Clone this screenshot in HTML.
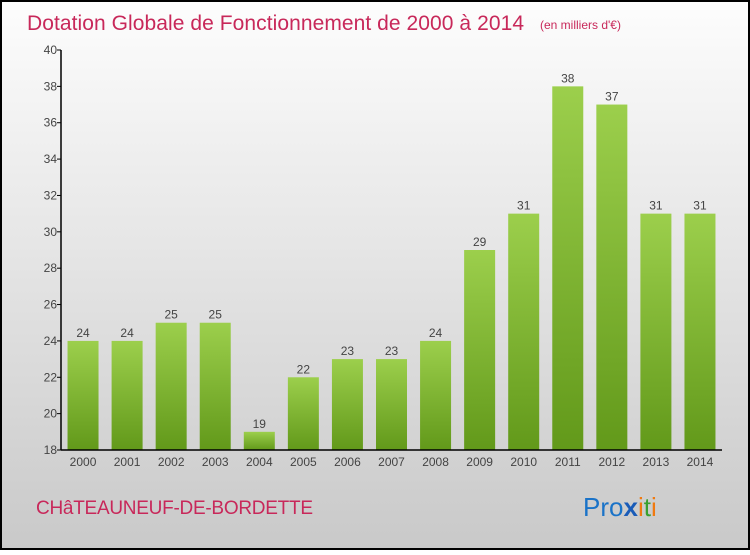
<!DOCTYPE html>
<html><head><meta charset="utf-8"><style>
body{margin:0;width:750px;height:550px;overflow:hidden;font-family:"Liberation Sans",sans-serif}
</style></head><body>
<svg id="chart" width="750" height="550" xmlns="http://www.w3.org/2000/svg">
<defs>
<linearGradient id="bg" x1="0" y1="0" x2="0" y2="1"><stop offset="0" stop-color="#fdfdfd"/><stop offset="1" stop-color="#c9c9c9"/></linearGradient>
<linearGradient id="bar" x1="0" y1="0" x2="0" y2="1"><stop offset="0" stop-color="#9ccf4c"/><stop offset="1" stop-color="#62991a"/></linearGradient>
</defs>
<rect x="1" y="1" width="748" height="548" fill="url(#bg)" stroke="#000" stroke-width="2"/>
<text x="27" y="30" font-size="21" fill="#c8285a" textLength="497">Dotation Globale de Fonctionnement de 2000 à 2014</text>
<text x="540" y="29" font-size="12" fill="#c8285a">(en milliers d'€)</text>
<g id="bars"></g><g id="axes"></g>
<text x="36" y="514" font-size="19" fill="#c8285a" textLength="277">CHâTEAUNEUF-DE-BORDETTE</text>
<text x="583" y="516" font-size="26"><tspan fill="#1a73c8">Pro</tspan><tspan fill="#1a5cb8" font-weight="bold">x</tspan><tspan fill="#f07a10">i</tspan><tspan fill="#3aa030">t</tspan><tspan fill="#f07a10">i</tspan></text>
</svg>
<script>
const years=["2000","2001","2002","2003","2004","2005","2006","2007","2008","2009","2010","2011","2012","2013","2014"];
const values=[24,24,25,25,19,22,23,23,24,29,31,38,37,31,31];
const yTicks=[18,20,22,24,26,28,30,32,34,36,38,40];
const NS="http://www.w3.org/2000/svg";
const x0=61,x1=722,yTop=50,yBot=450,vMin=18,vMax=40;
const step=(x1-x0)/years.length;
const y=v=>yBot-(v-vMin)/(vMax-vMin)*(yBot-yTop);
const xc=i=>x0+step*(i+0.5);
function mk(tag,attrs,parent){const e=document.createElementNS(NS,tag);for(const k in attrs)e.setAttribute(k,attrs[k]);parent.appendChild(e);return e;}
const bars=document.getElementById('bars'),axes=document.getElementById('axes');
yTicks.forEach(t=>{
 const tk=mk('line',{x1:x0-4,x2:x0,y1:y(t),y2:y(t),stroke:'#000'},axes);
 
 
 const l=mk('text',{x:x0-4,y:y(t)+4,'text-anchor':'end','font-size':12,fill:'#444'},axes);l.textContent=t;
 
 
});
values.forEach((v,i)=>{
 const r=mk('rect',{x:xc(i)-15.5,y:y(v),width:31,height:yBot-y(v),fill:'url(#bar)'},bars);
 
 
 const t=mk('text',{x:xc(i),y:y(v)-4,'text-anchor':'middle','font-size':12,fill:'#444'},bars);t.textContent=v;
 
 
 const xl=mk('text',{x:xc(i),y:yBot+16,'text-anchor':'middle','font-size':12,fill:'#444'},axes);xl.textContent=years[i];
 
 
});
const ya=mk('line',{x1:x0,x2:x0,y1:yTop,y2:yBot,stroke:'#000','stroke-width':1.5},axes);


const xa=mk('line',{x1:x0,x2:x1,y1:yBot,y2:yBot,stroke:'#000','stroke-width':1.5},axes);


</script>
</body></html>
